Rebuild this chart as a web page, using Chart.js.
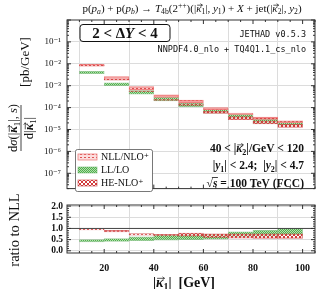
<!DOCTYPE html>
<html><head><meta charset="utf-8">
<script src="https://cdn.jsdelivr.net/npm/chart.js@4.4.0/dist/chart.umd.min.js"></script>
<style>
html,body{margin:0;padding:0;background:#fff;}
#wrap{position:relative;width:324px;height:289px;}
canvas{position:absolute;left:0;}
</style></head><body>
<div id="wrap">
<canvas id="main" width="324" height="200" style="top:0"></canvas>
<canvas id="ratio" width="324" height="104" style="top:185px"></canvas>
</div>
<script>
// |k1| bins (GeV), one band per bin: [low, high]
const binCenters = [15, 25, 35, 45, 55, 65, 75, 85, 95];
const nllBand = [[7.7e-3, 9.4e-3], [1.9e-3, 2.6e-3], [6.5e-4, 9.1e-4], [2.9e-4, 3.8e-4], [1.7e-4, 2.2e-4],
                 [8.0e-5, 1.0e-4], [4.6e-5, 5.6e-5], [2.9e-5, 3.7e-5], [2.0e-5, 2.5e-5]];
const llBand = [[3.5e-3, 4.5e-3], [1.0e-3, 1.35e-3], [4.1e-4, 6.0e-4], [2.0e-4, 3.0e-4], [1.1e-4, 1.6e-4],
                [5.5e-5, 8.5e-5], [3.2e-5, 4.9e-5], [1.9e-5, 2.9e-5], [1.6e-5, 2.3e-5]];
const heBand = [[7.9e-3, 8.6e-3], [1.8e-3, 2.0e-3], [5.3e-4, 5.9e-4], [2.1e-4, 2.4e-4], [1.25e-4, 1.5e-4],
                [5.4e-5, 6.9e-5], [2.8e-5, 3.9e-5], [1.8e-5, 2.5e-5], [1.25e-5, 1.7e-5]];
// ratio to NLL
const llRatio = [[0.40, 0.50], [0.42, 0.55], [0.45, 0.62], [0.48, 0.70], [0.50, 0.72],
                 [0.52, 0.74], [0.62, 0.85], [0.64, 0.92], [0.70, 1.00]];
const heRatio = [[0.93, 0.97], [0.84, 0.92], [0.70, 0.77], [0.66, 0.74], [0.65, 0.79],
                 [0.60, 0.76], [0.56, 0.76], [0.55, 0.76], [0.55, 0.76]];
const xTicks = [20, 40, 60, 80, 100];
const logTicks = [1e-7, 1e-6, 1e-5, 1e-4, 1e-3, 1e-2, 1e-1];
const ratioTicks = [0, 0.5, 1.0, 1.5, 2.0];
const labels = ['NLL/NLO\u207A', 'LL/LO', 'HE-NLO\u207A'];

const SERIF = '"Liberation Serif", "DejaVu Serif", serif';
const FRAME = '#333';
const GRID = '#dcdcdc';

function makePattern(w, h, draw) {
    const c = document.createElement('canvas');
    c.width = w; c.height = h;
    draw(c.getContext('2d'));
    return document.getElementById('main').getContext('2d').createPattern(c, 'repeat');
}
const nllFill = makePattern(4, 3, g => {
    g.fillStyle = 'rgba(245,160,160,0.35)'; g.fillRect(0, 0, 4, 3);
    g.fillStyle = 'rgba(215,60,60,0.85)'; g.fillRect(0, 1, 2, 1);
});
const llFill = makePattern(2, 2, g => {
    g.fillStyle = '#b4e0ac'; g.fillRect(0, 0, 2, 2);
    g.fillStyle = '#4fae4f'; g.fillRect(0, 0, 1, 1); g.fillRect(1, 1, 1, 1);
});
const heFill = makePattern(4, 4, g => {
    g.fillStyle = 'rgba(255,255,255,0.55)'; g.fillRect(0, 0, 4, 4);
    g.fillStyle = '#d23a3a';
    for (let i = 0; i < 4; i++) { g.fillRect(i, i, 1, 1); g.fillRect(3 - i, i, 1, 1); }
});

const styles = [
    { fill: nllFill, border: '#ee8080' },
    { fill: llFill, border: 'rgba(90,170,90,0.6)' },
    { fill: heFill, border: 'rgba(200,50,50,0.7)' }
];

function bandDataset(band, st, order) {
    return {
        type: 'bar',
        data: binCenters.map((x, i) => ({ x: x, y: band[i] })),
        backgroundColor: st.fill,
        borderColor: st.border,
        borderWidth: 0.8,
        borderSkipped: false,
        barPercentage: 1,
        categoryPercentage: 1,
        grouped: false,
        order: order
    };
}

const supMap = { '-': '\u207B', '0': '\u2070', '1': '\u00B9', '2': '\u00B2', '3': '\u00B3', '4': '\u2074',
                 '5': '\u2075', '6': '\u2076', '7': '\u2077', '8': '\u2078', '9': '\u2079' };
function logLabel(v) {
    const e = Math.round(Math.log10(v));
    return '10' + String(e).split('').map(c => supMap[c]).join('');
}

// rich text: parts = [text, flags]; flags: i italic, b bold, _ sub, ^ sup, v vector arrow
function rich(ctx, parts, x, y, size, align, bold) {
    const fontFor = f => {
        const s = (f.includes('_') || f.includes('^')) ? size * 0.7 : size;
        return (f.includes('i') ? 'italic ' : '') + ((bold || f.includes('b')) ? 'bold ' : '') + s + 'px ' + SERIF;
    };
    let w = 0;
    parts.forEach(([t, f]) => { ctx.font = fontFor(f); w += ctx.measureText(t).width; });
    let cx = align === 'right' ? x - w : align === 'center' ? x - w / 2 : x;
    ctx.textAlign = 'left';
    ctx.textBaseline = 'alphabetic';
    parts.forEach(([t, f]) => {
        ctx.font = fontFor(f);
        const dy = f.includes('_') ? size * 0.22 : f.includes('^') ? -size * 0.4 : 0;
        ctx.fillText(t, cx, y + dy);
        const tw = ctx.measureText(t).width;
        if (f.includes('v')) {
            const ay = y - size * 0.62;
            ctx.beginPath();
            ctx.lineWidth = 0.7;
            ctx.moveTo(cx + 1, ay); ctx.lineTo(cx + tw + 1, ay);
            ctx.moveTo(cx + tw - 1, ay - 1.5); ctx.lineTo(cx + tw + 1, ay); ctx.lineTo(cx + tw - 1, ay + 1.5);
            ctx.stroke();
        }
        cx += tw;
    });
    return w;
}

// frame + inward ticks
const framePlugin = {
    id: 'frame',
    afterDraw(chart, args, opts) {
        const { ctx, chartArea: a, scales } = chart;
        ctx.save();
        ctx.strokeStyle = FRAME;
        ctx.lineWidth = 1;
        ctx.strokeRect(a.left, a.top, a.right - a.left, a.bottom - a.top);
        ctx.beginPath();
        for (let v = 10; v <= 105; v += 5) {
            const px = scales.x.getPixelForValue(v);
            const len = v % 20 === 0 ? 4 : 2;
            ctx.moveTo(px, a.top); ctx.lineTo(px, a.top + len);
            ctx.moveTo(px, a.bottom); ctx.lineTo(px, a.bottom - len);
        }
        const ys = scales.y;
        if (opts.log) {
            for (let e = -8; e <= 0; e++) {
                for (let m = 1; m <= 9; m++) {
                    const v = m * Math.pow(10, e);
                    if (v < ys.min || v > ys.max) continue;
                    const py = ys.getPixelForValue(v);
                    const len = m === 1 ? 4 : 2;
                    ctx.moveTo(a.left, py); ctx.lineTo(a.left + len, py);
                    ctx.moveTo(a.right, py); ctx.lineTo(a.right - len, py);
                }
            }
        } else {
            for (let v = 0; v <= 2.0001; v += 0.1) {
                const py = ys.getPixelForValue(v);
                const len = Math.abs(v * 2 - Math.round(v * 2)) < 1e-6 ? 4 : 2;
                ctx.moveTo(a.left, py); ctx.lineTo(a.left + len, py);
                ctx.moveTo(a.right, py); ctx.lineTo(a.right - len, py);
            }
        }
        ctx.stroke();
        ctx.restore();
    }
};

const mainText = {
    id: 'mainText',
    afterDraw(chart) {
        const ctx = chart.ctx;
        ctx.save();
        ctx.fillStyle = '#111';
        ctx.strokeStyle = '#111';
        // title
        rich(ctx, [['p(', ''], ['p', 'i'], ['a', 'i_'], [') + p(', ''], ['p', 'i'], ['b', 'i_'], [') \u2192 ', ''],
                   ['T', 'i'], ['4b', '_'], ['(2', ''], ['++', '^'], [')(|', ''], ['\u03BA', 'iv'], ['1', '_'],
                   ['|, ', ''], ['y', 'i'], ['1', '_'], [') + ', ''], ['X', 'i'], [' + jet(|', ''], ['\u03BA', 'iv'],
                   ['2', '_'], ['|, ', ''], ['y', 'i'], ['2', '_'], [')', '']], 192, 12, 11, 'center');

        // y title (rotated fraction)
        ctx.save();
        ctx.rotate(-Math.PI / 2);
        rich(ctx, [['d', ''], ['\u03C3', 'i'], ['(|', ''], ['\u03BA', 'ibv'], ['1', '_'], ['|, ', ''], ['s', 'i'], [')', '']],
             -128, 17, 12.5, 'center');
        ctx.beginPath();
        ctx.lineWidth = 0.8;
        ctx.moveTo(-151, 21); ctx.lineTo(-105, 21);
        ctx.stroke();
        rich(ctx, [['d|', ''], ['\u03BA', 'ibv'], ['1', '_'], ['|', '']], -128, 33, 12.5, 'center');
        rich(ctx, [['[pb/GeV]', '']], -62, 29, 13, 'center');
        ctx.restore();

        // Delta Y box
        ctx.lineWidth = 1;
        ctx.beginPath();
        ctx.roundRect(80, 24.5, 90, 17, 3);
        ctx.stroke();
        rich(ctx, [['2 < \u0394', ''], ['Y', 'i'], [' < 4', '']], 125, 38, 15, 'center', true);

        ctx.font = '8.5px "DejaVu Sans Mono", monospace';
        ctx.textAlign = 'right';
        ctx.fillText('JETHAD v0.5.3', 306, 37);
        ctx.fillText('NNPDF4.0_nlo + TQ4Q1.1_cs_nlo', 306, 52);

        rich(ctx, [['40 < |', ''], ['\u03BA', 'iv'], ['2', '_'], ['|/GeV < 120', '']], 304, 152, 11.5, 'right', true);
        rich(ctx, [['|', ''], ['y', 'i'], ['1', '_'], ['| < 2.4;  |', ''], ['y', 'i'], ['2', '_'], ['| < 4.7', '']],
             304, 169, 11.5, 'right', true);
        const w = rich(ctx, [['\u221A', ''], ['s', 'i'], [' = 100 TeV (FCC)', '']], 304, 187, 11.5, 'right', true);
        ctx.font = 'bold 11.5px ' + SERIF;
        const rw = ctx.measureText('\u221A').width;
        ctx.beginPath();
        ctx.lineWidth = 0.8;
        ctx.moveTo(304 - w + rw - 1, 177.5); ctx.lineTo(304 - w + rw + 5, 177.5);
        ctx.stroke();

        // legend
        ctx.fillStyle = '#fff';
        ctx.strokeStyle = '#555';
        ctx.lineWidth = 0.8;
        ctx.beginPath();
        ctx.roundRect(75.5, 149.5, 77, 42, 2);
        ctx.fill(); ctx.stroke();
        const ly = [157, 170, 183];
        labels.forEach((lab, i) => {
            ctx.fillStyle = styles[i].fill;
            ctx.fillRect(78, ly[i] - 3, 19, 6);
            ctx.strokeStyle = styles[i].border;
            ctx.strokeRect(78, ly[i] - 3, 19, 6);
            ctx.fillStyle = '#111';
            ctx.font = '10px ' + SERIF;
            ctx.textAlign = 'left';
            ctx.textBaseline = 'middle';
            ctx.fillText(lab, 101, ly[i] + 0.5);
        });
        ctx.restore();
    }
};

// ratio canvas starts at page y = 185
const ratioText = {
    id: 'ratioText',
    afterDraw(chart) {
        const ctx = chart.ctx;
        ctx.save();
        ctx.fillStyle = '#111';
        ctx.strokeStyle = '#111';
        ctx.save();
        ctx.rotate(-Math.PI / 2);
        rich(ctx, [['ratio to NLL', '']], -45, 19, 14.5, 'center');
        ctx.restore();
        rich(ctx, [['|', 'b'], ['\u03BA', 'ibv'], ['1', 'b_'], ['|  [GeV]', 'b']], 184, 102, 14, 'center');
        ctx.restore();
    }
};

Chart.defaults.font.family = SERIF;
Chart.defaults.color = '#111';

new Chart(document.getElementById('main'), {
    type: 'bar',
    data: {
        datasets: [
            bandDataset(nllBand, styles[0], 2),
            bandDataset(llBand, styles[1], 3),
            bandDataset(heBand, styles[2], 1)
        ]
    },
    options: {
        responsive: false,
        animation: false,
        events: [],
        layout: { padding: { top: 20, right: 9, bottom: 4, left: 0 } },
        plugins: { legend: { display: false }, tooltip: { enabled: false }, frame: { log: true } },
        scales: {
            x: {
                type: 'linear', min: 5, max: 105, offset: false,
                afterBuildTicks: s => { s.ticks = xTicks.map(v => ({ value: v })); },
                afterFit: s => { s.height = 0; },
                ticks: { display: false },
                grid: { color: GRID, drawTicks: false },
                border: { display: false }
            },
            y: {
                type: 'logarithmic', min: 2e-8, max: 1,
                afterBuildTicks: s => { s.ticks = logTicks.map(v => ({ value: v })); },
                afterFit: s => { s.width = 67; },
                ticks: { callback: v => logLabel(v), font: { size: 9 }, padding: 6, autoSkip: false },
                grid: { color: GRID, drawTicks: false },
                border: { display: false }
            }
        }
    },
    plugins: [framePlugin, mainText]
});

new Chart(document.getElementById('ratio'), {
    type: 'bar',
    data: {
        datasets: [
            bandDataset(llRatio, styles[1], 3),
            bandDataset(heRatio, styles[2], 2),
            {
                type: 'line',
                data: [{ x: 5, y: 1 }, { x: 105, y: 1 }],
                borderColor: '#444', borderWidth: 1, pointRadius: 0, order: 0
            }
        ]
    },
    options: {
        responsive: false,
        animation: false,
        events: [],
        layout: { padding: { top: 20, right: 9, bottom: 0, left: 0 } },
        plugins: { legend: { display: false }, tooltip: { enabled: false }, frame: { log: false } },
        scales: {
            x: {
                type: 'linear', min: 5, max: 105, offset: false,
                afterBuildTicks: s => { s.ticks = xTicks.map(v => ({ value: v })); },
                afterFit: s => { s.height = 36; },
                ticks: { font: { size: 10, weight: 'bold' }, padding: 9, maxRotation: 0, autoSkip: false },
                grid: { color: GRID, drawTicks: false },
                border: { display: false }
            },
            y: {
                min: -0.1, max: 2.05,
                afterBuildTicks: s => { s.ticks = ratioTicks.map(v => ({ value: v })); },
                afterFit: s => { s.width = 67; },
                ticks: { callback: v => v.toFixed(1), font: { size: 9.5, weight: 'bold' }, padding: 4, autoSkip: false },
                grid: { color: GRID, drawTicks: false },
                border: { display: false }
            }
        }
    },
    plugins: [framePlugin, ratioText]
});
</script>
</body></html>
